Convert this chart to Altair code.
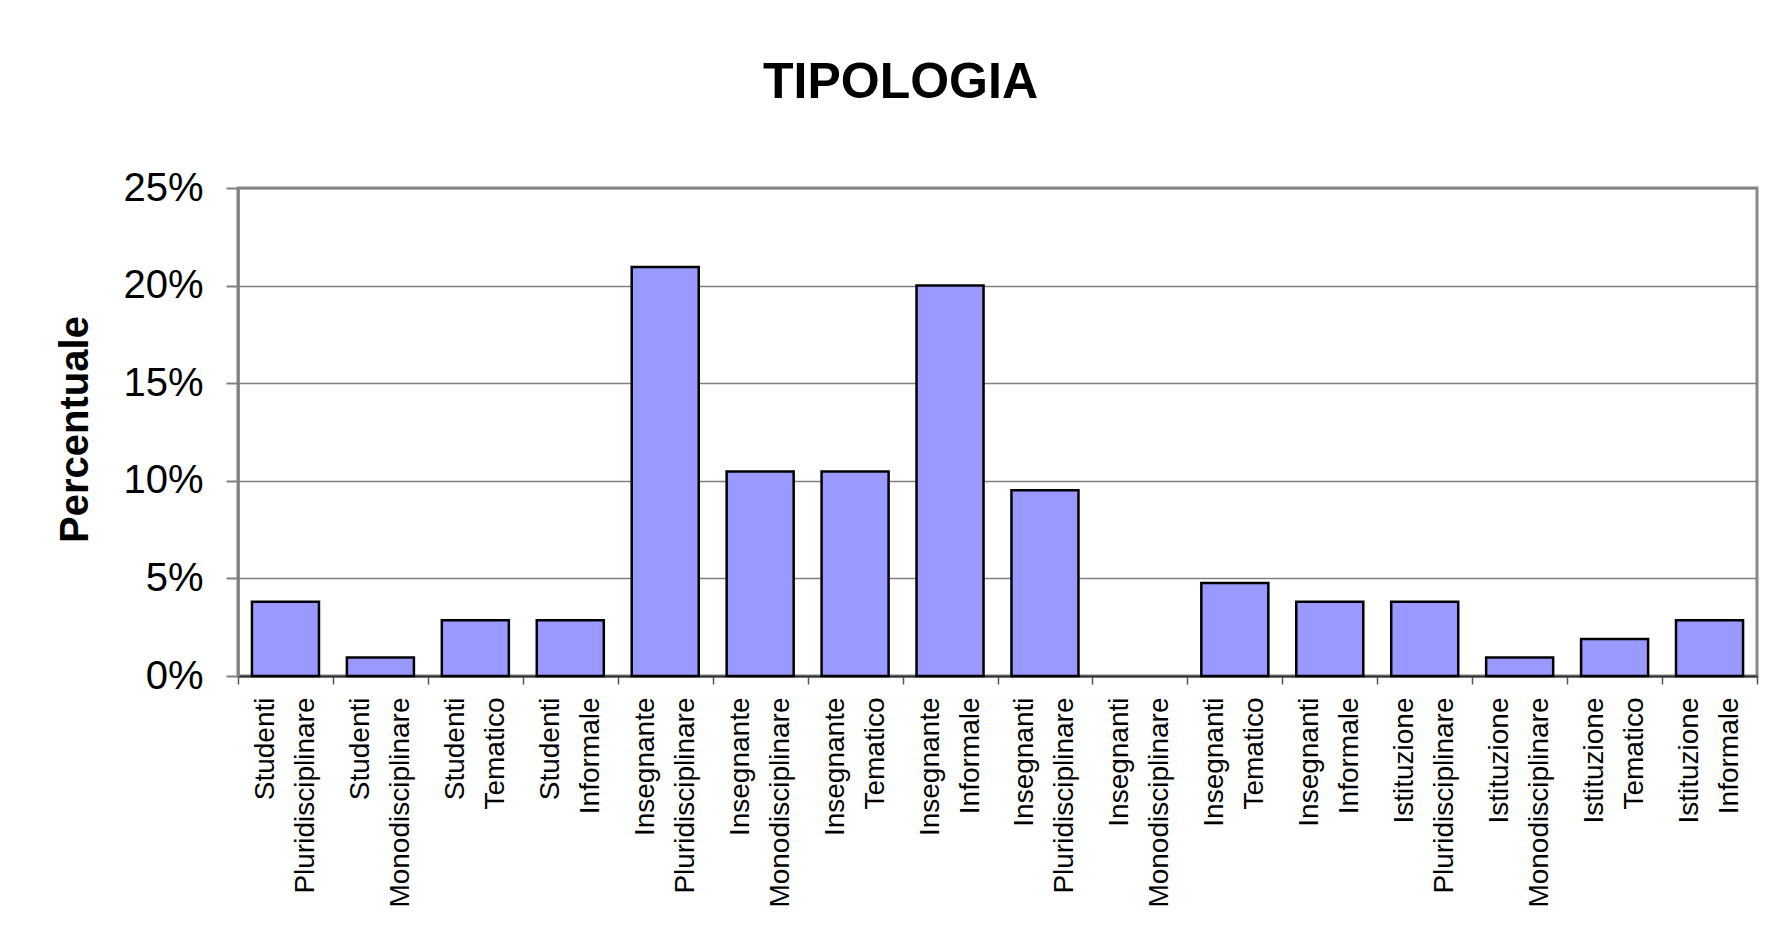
import altair as alt
import pandas as pd

categories = [
    "Studenti Pluridisciplinare", "Studenti Monodisciplinare", "Studenti Tematico", "Studenti Informale",
    "Insegnante Pluridisciplinare", "Insegnante Monodisciplinare", "Insegnante Tematico", "Insegnante Informale",
    "Insegnanti Pluridisciplinare", "Insegnanti Monodisciplinare", "Insegnanti Tematico", "Insegnanti Informale",
    "Istituzione Pluridisciplinare", "Istituzione Monodisciplinare", "Istituzione Tematico", "Istituzione Informale",
]
percentuali = [3.81, 0.95, 2.86, 2.86, 20.95, 10.48, 10.48, 20.0, 9.52, 0.0, 4.76, 3.81, 3.81, 0.95, 1.90, 2.86]
y_ticks = [0, 5, 10, 15, 20, 25]

df = pd.DataFrame({"tipologia": categories, "percentuale": percentuali})

FONT = "Liberation Sans"

chart = (
    alt.Chart(df)
    .mark_bar(color="#9999FF", stroke="#000000", strokeWidth=2.5, width=alt.RelativeBandSize(0.706))
    .encode(
        x=alt.X(
            "tipologia:N",
            sort=categories,
            scale=alt.Scale(paddingInner=0, paddingOuter=0),
            axis=alt.Axis(
                title=None,
                labelAngle=270,
                labelExpr="split(datum.label, ' ')",
                labelFont=FONT,
                labelFontSize=28,
                labelLineHeight=40,
                labelColor="#000000",
                labelPadding=13,
                labelOffset=-20,
                labelLimit=400,
                tickBand="extent",
                tickSize=8,
                tickColor="#555555",
                tickWidth=1.5,
                domainColor="#333333",
                domainWidth=2,
                grid=False,
            ),
        ),
        y=alt.Y(
            "percentuale:Q",
            scale=alt.Scale(domain=[0, 25], nice=False),
            axis=alt.Axis(
                title="Percentuale",
                titleFont=FONT,
                titleFontSize=40,
                titleFontWeight="bold",
                titleColor="#000000",
                titleAngle=270,
                titleX=-151,
                titleY=241,
                titleBaseline="alphabetic",
                titleAlign="center",
                values=y_ticks,
                labelExpr="datum.value + '%'",
                labelFont=FONT,
                labelFontSize=40,
                labelColor="#000000",
                labelPadding=23,
                tickSize=12,
                tickColor="#808080",
                tickWidth=2,
                domainColor="#808080",
                domainWidth=2.5,
                gridColor="#808080",
                gridWidth=1.5,
            ),
        ),
        strokeOpacity=alt.condition(alt.datum.percentuale > 0, alt.value(1), alt.value(0)),
    )
    .properties(
        width=1519,
        height=488,
        autosize=alt.AutoSizeParams(type="none"),
        padding={"left": 230, "top": 180, "right": 20, "bottom": 250},
        background="#ffffff",
        title=alt.TitleParams(
            "TIPOLOGIA",
            font=FONT,
            fontSize=50,
            fontWeight="bold",
            color="#000000",
            anchor="middle",
            frame="group",
            dx=-97,
            offset=20,
            baseline="alphabetic",
        ),
    )
    .configure_view(stroke="#888888", strokeWidth=3)
)

chart.save("out.html", embed_options={"renderer": "svg", "actions": False})
